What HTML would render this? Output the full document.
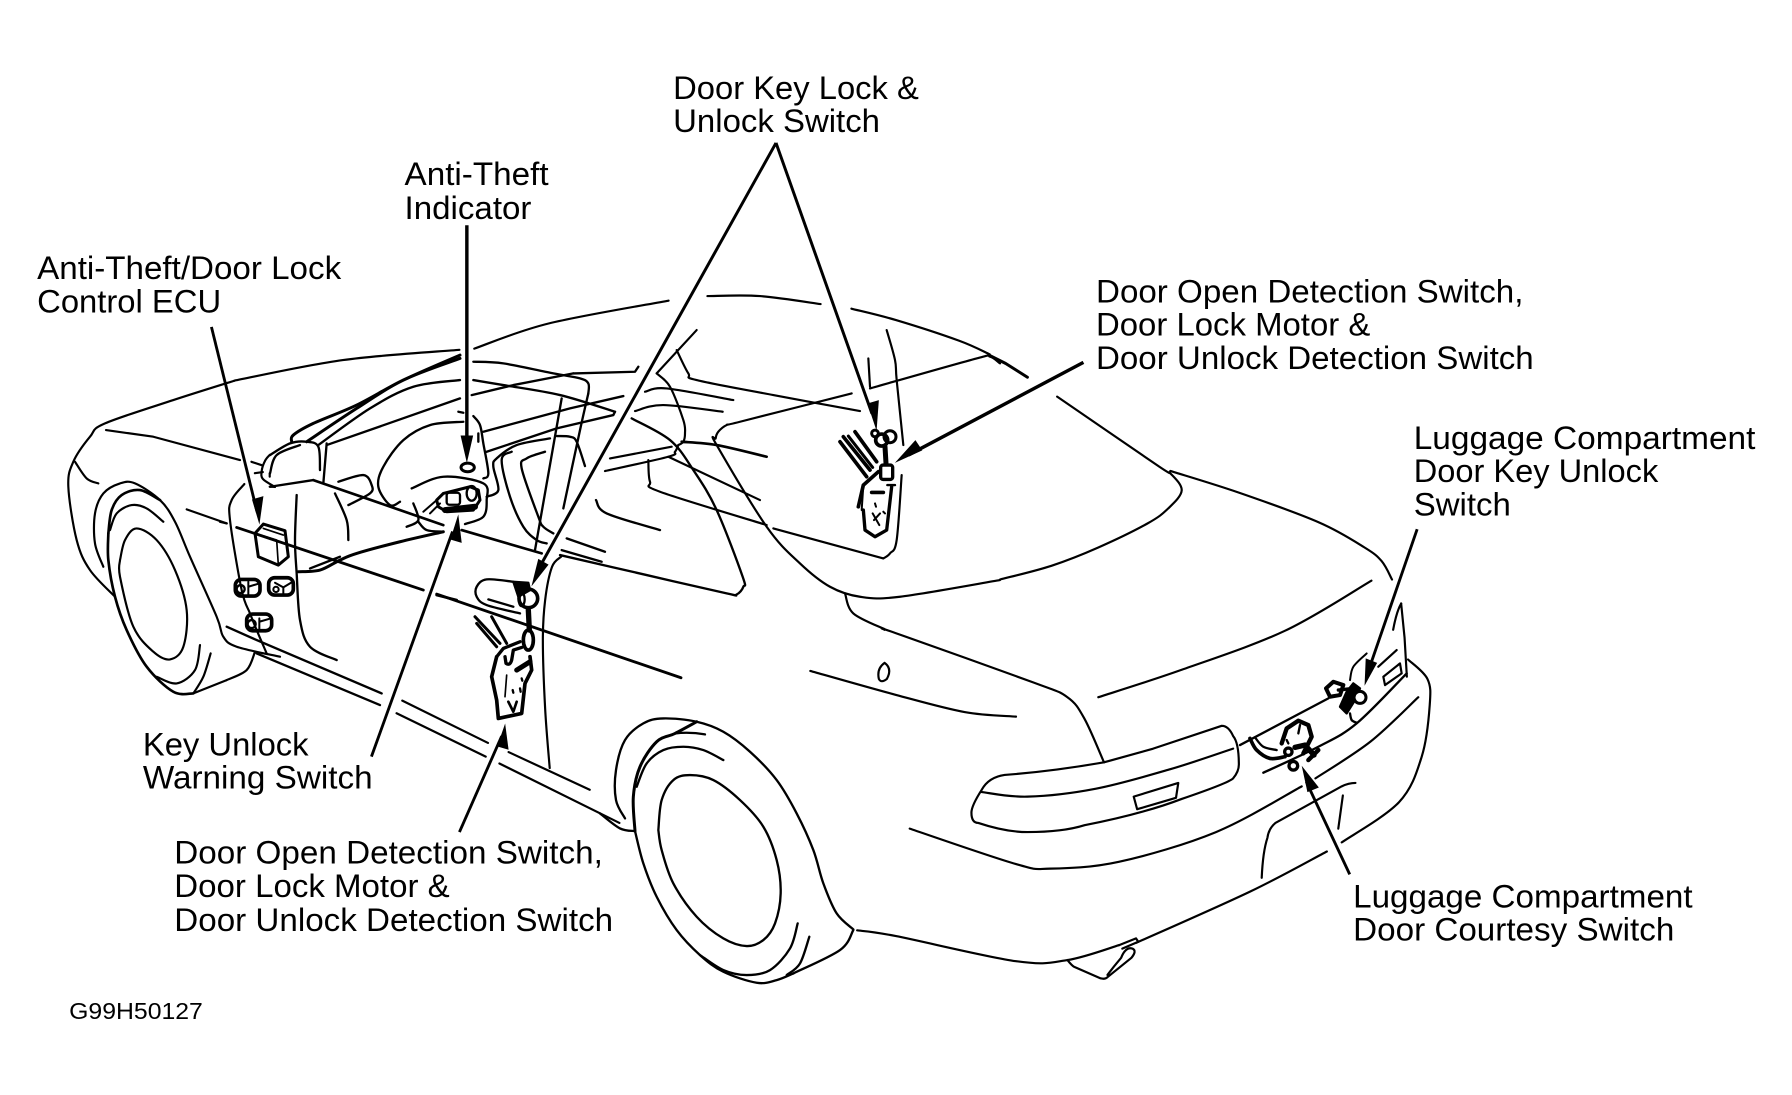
<!DOCTYPE html>
<html><head><meta charset="utf-8"><style>
html,body{margin:0;padding:0;background:#fff}
svg{display:block}
text{font-family:"Liberation Sans",Arial,sans-serif;font-size:28px;fill:#000}
.c,.c *,.t *{fill:none;stroke:#000;stroke-linecap:round;stroke-linejoin:round}
.a{fill:none;stroke:#000;stroke-width:2.5;stroke-linecap:butt}
</style></head><body>
<svg width="1792" height="1095" viewBox="0 0 1568 958" xmlns="http://www.w3.org/2000/svg">
<rect width="1568" height="958" fill="#fff"/>

<!-- body shell, overview coordinates -->
<g class="c" style="stroke-width:1.9">
<polyline class="s" points="205,333 300,315 402,306"/>
<polyline class="s" points="745,270 784,280 839,298 866,310"/>
<polyline points="866,311 880,318 899,330" style="stroke-width:2.6"/>
<polyline class="s" points="415,305 480,283 585,263"/>
<polyline class="s" points="619,259 665,259 718,266"/>
<polyline class="s" points="925,347 1014,408 1024,414 1034,429 1022,445 1004,458 961,479 920,495 875,507"/>
<polyline class="s" points="1024,412 1084,431 1154,457 1194,479 1209,491 1218,507"/>
<polyline class="s" points="1200,508 1124,552 1034,586 961,610"/>
<polyline class="s" points="774,551 784,554 904,597 934,610 949,629 966,667"/>
<polyline class="s" points="709,587 784,608 844,623 889,627"/>
<path d="M774 580Q767 585 769 594M774 580Q781 585 776 594Q771 598 769 594"/>
<!-- mirror left part -->
<polyline class="s" points="236,398 232,403 229,412 230,419 240.6,426"/>
<polyline points="236,425.8 240.6,426"/>
<polyline points="236,414 236,417"/>
<path d="M220 404L229 407M223 414L230 413"/>
<!-- taillight -->
<path d="M966 667Q920 675 879 678Q865 680 859 691Q850 705 850 711Q850 720 856 720Q880 728 899 728Q930 728 949 722Q1000 712 1034 699Q1075 685 1079 681Q1084 675 1084 669Q1084 650 1079 644Q1075 635 1069 635L1009 655Z"/>
<polyline class="s" points="859,693 899,697 959,690 1024,673 1079,655"/>
<path d="M992 697L1031 685L1029 698L995 708Z"/>
<path d="M1226 528L1229 558L1231 592"/>
<path d="M1219 551Q1222 535 1226 528"/>
<!-- bumper -->
<polyline class="s" points="1232,577 1249,594 1251,617 1244,662 1224,702 1174,737"/>
<polyline class="s" points="1161,745 1094,780 994,825"/>
<polyline class="s" points="750,814 784,819 889,841 934,840 979,827"/>
<polyline class="s" points="1241,610 1199,649 1151,681"/>
<polyline class="s" points="1139,688 1064,728 979,754 919,760 889,756 796,725"/>
<path d="M1186 685Q1180 685 1174 688L1116 720Q1110 725 1109 733Q1105 745 1104 768"/>
<path d="M1175 696L1171 725"/>
<!-- exhaust -->
<path d="M934 840Q938 845 940 846L963 856Q967 857 969 855L990 838Q995 832 991 830Q985 828 981 838Q975 845 969 853"/>
<path d="M979 827L994 821L996 824L982 830"/>
<!-- sill -->
<path d="M352 613L427 650M347 624L425 662M445 658L516 691M437 668L542 720"/>
<polyline class="s" points="491,487 483,496 477,525 475,560 477,620 481,672"/>
</g>

<!-- rear wheel -->
<g class="c" transform="translate(525,612.5) scale(.29167)" style="stroke-width:7">
<polyline class="s" points="0,340 60,385 105,393"/>
<polyline class="s" points="75,355 48,300 48,210 75,120 130,70 190,55 290,65 370,95 450,155 530,240 590,340 640,450 670,550 710,640 760,688"/>
<polyline class="s" points="105,393 130,490 170,590 230,690 300,765 370,815 470,848 530,840 580,820"/>
<polyline class="s" points="580,820 720,750 760,690"/>
<polyline class="s" style="stroke-width:9" points="105,393 100,290 120,200 170,125 225,100 290,65"/>
<path d="M225 100Q270 95 315 103"/>
<polyline class="s" points="110,260 140,190 190,150 250,140 310,150 370,180"/>
<polyline class="s" points="175,390 185,300 220,240 270,225 340,240 420,300 490,380 530,480 542,580 525,670 490,720 440,738 370,715 290,650 220,550 185,450 175,390"/>
<polyline class="s" points="593,670 570,745 510,810 440,825 370,810 300,765"/>
<polyline class="s" points="628,710 600,790 560,825"/>
</g>

<!-- front wheel -->
<g class="c" transform="translate(52.5,350) scale(.29167)" style="stroke-width:6.5">
<polyline class="s" points="523,-58 340,0 135,70 90,110 40,185 25,260 50,420 90,510 165,590"/>
<polyline class="s" points="45,185 80,235 115,250"/>
<polyline points="138,90 280,110 540,180"/>
<polyline class="s" points="130,500 105,430 105,340 130,280 180,250 225,250 300,300 345,365 390,470 470,650 490,710 530,740 660,770"/>
<polyline class="s" style="stroke-width:8" points="145,400 145,480 165,590 200,690 260,800 340,875 400,880"/>
<polyline points="400,880 500,840"/>
<polyline class="s" points="500,840 560,810 585,755"/>
<polyline class="s" style="stroke-width:8" points="145,400 155,330 185,285 240,270 300,300"/>
<polyline class="s" points="150,390 170,340 215,315 260,325 310,365"/>
<polyline class="s" points="180,480 195,420 230,385 290,420 345,510 380,630 370,740 330,778 280,755 220,680 180,530 180,480"/>
<polyline class="s" points="420,735 405,810 350,850 290,830"/>
<polyline class="s" points="452,760 430,830 400,880"/>
<polyline points="380,328 500,370"/>
<polyline class="s" points="553,252 515,300 510,360 545,570 570,640 590,690 620,760"/>
</g>

<!-- interior, crop A coordinates -->
<g class="c" transform="translate(236.25,288.75) scale(.29167)" style="stroke-width:7">
<polyline class="s" style="stroke-width:9" points="65,335 70,315 130,280 260,225 400,150 570,75"/>
<polyline class="s" style="stroke-width:9" points="110,335 260,235 400,150 570,85"/>
<polyline class="s" points="145,345 300,235 430,170 570,150"/>
<polyline points="170,345 570,205"/>
<polyline class="s" points="610,95 700,100 850,130 930,145 955,160 955,190"/>
<polyline class="s" points="955,190 930,300 880,535"/>
<polyline points="910,130 1095,125 1105,110"/>
<polyline class="s" points="610,150 700,165 870,195 1035,245"/>
<polyline points="1035,245 1030,255 860,295 650,365"/>
<polyline points="605,195 730,165 910,130"/>
<polyline points="640,305 900,235 1060,198"/>
<polyline points="875,205 795,660"/>
<polyline class="s" points="860,318 900,320 920,335 945,408"/>
<polyline class="s" points="840,325 740,345 680,385 670,410 685,480 650,500"/>
<polyline class="s" points="725,365 695,390 720,500 760,590 800,630 830,640"/>
<polyline class="s" points="825,365 770,385 755,415 805,560 820,590 850,610"/>
<polyline points="890,625 1005,665"/>
<polyline points="875,660 995,695"/>
<polyline class="s" points="870,675 1130,735 1370,790 1400,793 1420,770 1418,740 1340,540 1270,420 1200,330 1085,265"/>
<polyline class="s" points="978,510 1010,550 1170,600"/>
<polyline points="565,245 580,248"/>
<polyline class="s" points="610,258 630,285 640,340 655,430 640,445"/>
<path d="M625 310L625 335"/>
<polyline class="s" points="580,275 480,285 400,330 340,410 325,470 360,525 390,515"/>
<polyline class="s" points="425,475 520,440 640,460 650,510 640,560 585,582"/>
<polyline class="s" points="0,375 60,340 110,335 145,350 150,420"/>
<polyline class="s" points="0,430 20,375 90,345"/>
<polyline points="0,470 130,450"/>
<polyline points="130,450 520,585" style="stroke-width:8"/>
<polyline points="170,340 160,460"/>
<polyline class="s" points="205,455 280,435 305,465 300,490 235,525"/>
<polyline class="s" points="195,490 230,570 235,630"/>
<polyline points="575,600 815,670" style="stroke-width:8"/>
<polyline points="500,795 560,810" style="stroke-width:8"/>
<polyline class="s" style="stroke-width:9" points="85,725 150,720 210,690 260,670 390,635 520,605"/>
<polyline points="120,715 210,680"/>
<polyline class="s" points="430,520 445,570 410,590"/>
<polyline class="s" points="445,575 470,600 520,605"/>
<!-- key warning switch -->
<polyline points="460,545 500,510" style="stroke-width:6"/>
<polyline points="480,550 510,520" style="stroke-width:6"/>
<path d="M500 510L520 490L600 470L625 480L630 510L610 540L530 545L505 530Z" style="stroke-width:9"/>
<ellipse cx="605" cy="490" rx="15" ry="22" style="stroke-width:7"/>
<rect x="530" y="488" width="40" height="36" rx="8" style="stroke-width:7"/>
<polyline points="525,540 615,530" style="stroke-width:18"/>
<ellipse cx="593" cy="412" rx="20" ry="13" style="stroke-width:9"/>
</g>

<!-- rear window and rear door, crop B coordinates -->
<g class="c" transform="translate(525,288.75) scale(.29167)" style="stroke-width:6.5">
<polyline class="s" points="230,60 265,130 290,150 520,195 780,243"/>
<polyline class="s" points="755,190 420,275 380,285 355,305 347,325 350,345 500,590 600,700 690,770 780,800 900,800 1200,750"/>
<polyline class="s" points="735,790 760,850 855,898"/>
<polyline class="s" points="810,175 1130,85 1170,80 1200,100"/>
<polyline points="805,85 810,170"/>
<polyline class="s" points="860,0 885,90 890,150 910,345"/>
<polyline class="s" points="905,435 890,630 870,670 850,685"/>
<polyline points="850,685 520,595"/>
<polyline class="s" points="500,585 180,485 150,455 145,390"/>
<polyline points="170,130 290,0"/>
<polyline class="s" points="170,130 210,170 250,270 255,310 250,335 235,345"/>
<polyline class="s" points="135,185 200,175 400,210"/>
<polyline class="s" points="105,243 190,225 368,245"/>
<polyline class="s" points="245,335 350,345 500,380" style="stroke-width:8"/>
<polyline points="30,385 215,350"/>
<polyline class="s" points="15,423 205,380 225,365 235,345"/>
<polyline points="205,380 480,510"/>
<!-- motor -->
<polyline points="835,425 790,465 775,530" style="stroke-width:11"/>
<path d="M790 540L795 600L825 620L860 600L875 470" style="stroke-width:10"/>
<path d="M790 465L785 540" style="stroke-width:6"/>
<polyline points="720,335 800,440" style="stroke-width:11"/>
<polyline points="730,320 810,420" style="stroke-width:11"/>
<polyline points="745,318 818,412" style="stroke-width:9"/>
<polyline points="765,305 830,395" style="stroke-width:11"/>
<circle cx="845" cy="330" r="18" style="stroke-width:11"/>
<circle cx="825" cy="310" r="10" style="stroke-width:9"/>
<circle cx="870" cy="320" r="18" style="stroke-width:9"/>
<polyline points="855,350 858,400" style="stroke-width:15"/>
<rect x="842" y="405" width="36" height="43" rx="7" style="stroke-width:10"/>
<polyline points="815,487 850,487" style="stroke-width:11"/>
<path d="M818 550L838 585M840 550L822 570M825 520L828 530M850 545L855 550" style="stroke-width:6"/>
<polyline points="862,465 885,465" style="stroke-width:7"/>
</g>

<!-- door parts, crop E coordinates -->
<g class="c" transform="translate(192.5,385) scale(.29167)" style="stroke-width:7">
<polyline class="s" points="230,165 225,300 230,400 240,540 270,620 350,660"/>
<polyline points="0,245 20,250"/>
<polyline points="50,262 610,450" style="stroke-width:8.5"/>
<polyline points="650,462 1383,713" style="stroke-width:8.5"/>
<polyline points="20,560 110,600 485,760"/>
<polyline points="110,640 480,795"/>
<!-- ECU -->
<path d="M105 280L130 252L195 272L205 350L175 375L115 350Z" style="stroke-width:9"/>
<path d="M107 280L170 300L175 375" style="stroke-width:5"/>
<path d="M130 265L190 285" style="stroke-width:5"/>
<!-- connectors -->
<rect x="46" y="418" width="74" height="50" rx="18" style="stroke-width:11"/>
<circle cx="62" cy="447" r="12" style="stroke-width:7"/><path d="M85 425L85 465M85 440L118 430" style="stroke-width:6"/>
<rect x="146" y="413" width="74" height="52" rx="18" style="stroke-width:11"/>
<path d="M165 428L190 442L190 465M190 442L218 425" style="stroke-width:6"/><circle cx="168" cy="448" r="8" style="stroke-width:6"/>
<rect x="80" y="522" width="75" height="50" rx="18" style="stroke-width:11"/>
<circle cx="95" cy="552" r="12" style="stroke-width:7"/><path d="M118 535L118 570M118 545L152 535" style="stroke-width:6"/>
<!-- handle -->
<polyline class="s" points="880,425 800,418 770,440 770,470 800,495 900,520"/>
<polyline points="805,478 880,500"/>
<path d="M880 425L925 428L930 450L895 470Z" style="fill:#000"/>
<circle cx="925" cy="475" r="28" style="stroke-width:11"/>
<ellipse cx="905" cy="478" rx="9" ry="20" style="stroke-width:7"/>
<polyline points="925,510 928,570" style="stroke-width:16"/>
<ellipse cx="925" cy="600" rx="15" ry="30" style="stroke-width:11"/>
<!-- front motor -->
<path d="M830 650L815 710L830 780L835 835L905 820L915 730L935 690L930 650" style="stroke-width:11"/>
<polyline points="770,550 830,620" style="stroke-width:9"/>
<polyline points="765,530 840,610" style="stroke-width:9"/>
<polyline points="815,530 860,610" style="stroke-width:9"/>
<path d="M830 650L850 625L900 605" style="stroke-width:10"/>
<path d="M855 650L858 670Q870 678 875 660L880 630L905 622" style="stroke-width:10"/>
<path d="M890 690L930 665" style="stroke-width:15"/>
<path d="M860 705L855 770" style="stroke-width:5"/>
<path d="M878 750L880 758M900 745L902 755M905 715L907 722" style="stroke-width:7"/>
<path d="M865 785L880 815L890 785" style="stroke-width:8"/>
</g>

<!-- luggage parts, crop F coordinates -->
<g class="c" transform="translate(1085,568.75) scale(.29167)" style="stroke-width:7">
<polyline points="0,285 265,145"/>
<polyline class="s" points="70,368 235,290 350,220 500,70"/>
<path d="M415 50L470 0" style="stroke-width:6.5"/>
<path d="M430 80L480 40L485 70L435 105Z" style="stroke-width:6.5"/>
<path d="M258 115L280 95L310 105L300 135L270 140Z" style="stroke-width:12"/>
<path d="M300 170L320 125L340 100L360 115L345 150L320 190Z" style="fill:#000"/>
<path d="M295 120L340 115" style="stroke-width:10"/>
<circle cx="360" cy="142" r="18" style="stroke-width:9;fill:#fff"/>
<polyline class="s" points="330,190 335,210 350,218"/>
<polyline class="s" points="380,10 340,50 330,90" style="stroke-width:6"/>
<path d="M125 280L140 235L175 212L205 225L215 260L200 290L190 310" style="stroke-width:13"/>
<path d="M180 225L175 250M140 270L145 280" style="stroke-width:7"/>
<path d="M165 292L195 285L222 315" style="stroke-width:16"/>
<path d="M205 330L235 300" style="stroke-width:13"/>
<circle cx="145" cy="305" r="11" style="stroke-width:10"/>
<circle cx="160" cy="347" r="13" style="stroke-width:10"/>
<polyline class="s" points="30,265 50,300 90,325 135,320" style="stroke-width:11"/>
<polyline class="s" points="45,262 70,290 110,300" style="stroke-width:7"/>
</g>

<!-- leader arrows -->
<g class="a">
<path d="M185 286L225 448"/>
<path d="M408.5 197L408.5 392" style="stroke-width:3"/>
<path d="M679 125L470 500M679 125L763 362" stroke-width="2.6"/>
<path d="M948 317L795 398" style="stroke-width:3"/>
<path d="M1240 463L1198 585"/>
<path d="M1181 765L1143 684"/>
<path d="M325 662L396 465"/>
<path d="M402 728L439 644"/>
</g>
<g fill="#000">
<polygon points="227,459 220.5,437 230.5,434"/>
<polygon points="408.5,405 403,381 414,381"/>
<polygon points="465,513 471,489 480,494"/>
<polygon points="767,377 759,353 769,350"/>
<polygon points="783,405 801,385 807,394"/>
<polygon points="1194,600 1195,576 1205,580"/>
<polygon points="1139,670 1154,689 1144,693"/>
<polygon points="401,450 404,475 394,472"/>
<polygon points="442,633 445,656 435,653"/>
</g>

<!-- labels -->
<text x="589" y="86.5" textLength="215" lengthAdjust="spacingAndGlyphs">Door Key Lock &amp;</text>
<text x="589" y="115.5" textLength="181" lengthAdjust="spacingAndGlyphs">Unlock Switch</text>
<text x="354" y="162" textLength="126" lengthAdjust="spacingAndGlyphs">Anti-Theft</text>
<text x="354" y="191.5" textLength="111" lengthAdjust="spacingAndGlyphs">Indicator</text>
<text x="32.5" y="244" textLength="266" lengthAdjust="spacingAndGlyphs">Anti-Theft/Door Lock</text>
<text x="32.5" y="273.5" textLength="161" lengthAdjust="spacingAndGlyphs">Control ECU</text>
<text x="959" y="264.5" textLength="374" lengthAdjust="spacingAndGlyphs">Door Open Detection Switch,</text>
<text x="959" y="293.5" textLength="240" lengthAdjust="spacingAndGlyphs">Door Lock Motor &amp;</text>
<text x="959" y="323" textLength="383" lengthAdjust="spacingAndGlyphs">Door Unlock Detection Switch</text>
<text x="1237" y="392.7" textLength="299" lengthAdjust="spacingAndGlyphs">Luggage Compartment</text>
<text x="1237" y="421.7" textLength="214" lengthAdjust="spacingAndGlyphs">Door Key Unlock</text>
<text x="1237" y="451" textLength="85" lengthAdjust="spacingAndGlyphs">Switch</text>
<text x="125" y="661" textLength="145" lengthAdjust="spacingAndGlyphs">Key Unlock</text>
<text x="125" y="690" textLength="201" lengthAdjust="spacingAndGlyphs">Warning Switch</text>
<text x="152.5" y="755.6" textLength="375" lengthAdjust="spacingAndGlyphs">Door Open Detection Switch,</text>
<text x="152.5" y="785" textLength="241" lengthAdjust="spacingAndGlyphs">Door Lock Motor &amp;</text>
<text x="152.5" y="814.5" textLength="384" lengthAdjust="spacingAndGlyphs">Door Unlock Detection Switch</text>
<text x="1184" y="793.8" textLength="297" lengthAdjust="spacingAndGlyphs">Luggage Compartment</text>
<text x="1184" y="822.8" textLength="281" lengthAdjust="spacingAndGlyphs">Door Courtesy Switch</text>
<text x="60.5" y="891.5" textLength="117" lengthAdjust="spacingAndGlyphs" style="font-size:20px">G99H50127</text>
</svg>
<script>
document.querySelectorAll('polyline.s').forEach(function(e){
  var n=e.getAttribute('points').trim().split(/\s+/).map(function(p){return p.split(',').map(Number)});
  var d='M'+n[0][0]+' '+n[0][1];
  for(var i=0;i<n.length-1;i++){
    var a=n[Math.max(i-1,0)],b=n[i],c=n[i+1],f=n[Math.min(i+2,n.length-1)];
    d+='C'+(b[0]+(c[0]-a[0])/6).toFixed(1)+' '+(b[1]+(c[1]-a[1])/6).toFixed(1)+' '+(c[0]-(f[0]-b[0])/6).toFixed(1)+' '+(c[1]-(f[1]-b[1])/6).toFixed(1)+' '+c[0]+' '+c[1];
  }
  var p=document.createElementNS('http://www.w3.org/2000/svg','path');
  p.setAttribute('d',d);
  var st=e.getAttribute('style');if(st)p.setAttribute('style',st);
  e.parentNode.replaceChild(p,e);
});
</script>
</body></html>
